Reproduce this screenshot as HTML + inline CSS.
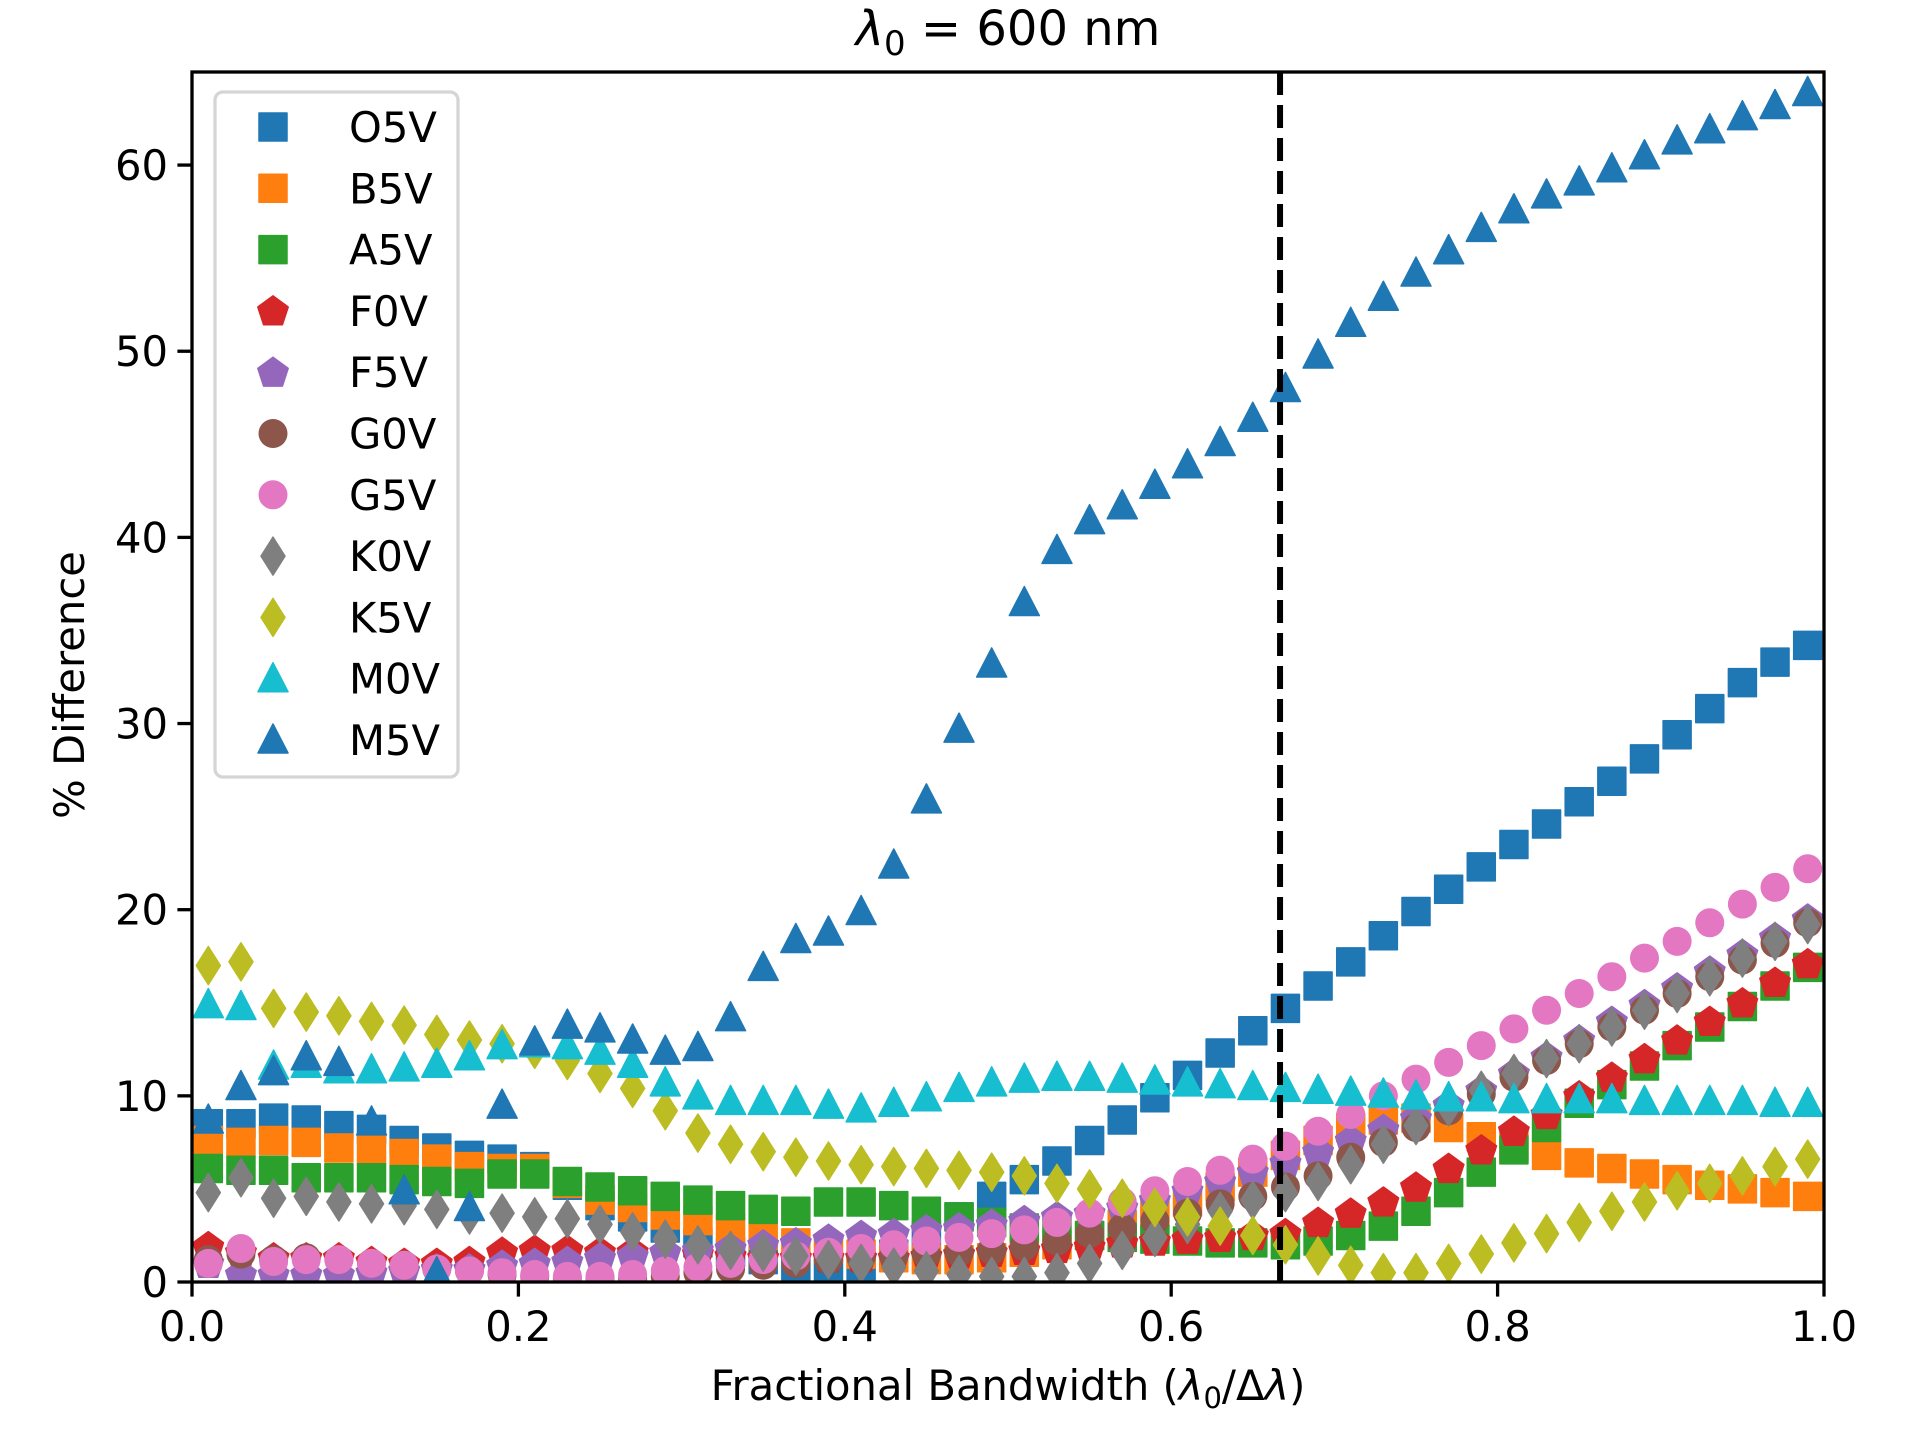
<!DOCTYPE html>
<html><head><meta charset="utf-8"><style>
html,body{margin:0;padding:0;background:#fff;}
svg{display:block;font-family:"DejaVu Sans","Liberation Sans",sans-serif;}
</style></head><body>
<svg id="chart" width="1920" height="1440" viewBox="0 0 1920 1440" xmlns="http://www.w3.org/2000/svg">
<rect width="1920" height="1440" fill="#fff"/>
<g id="marks"></g>
<g id="axes"></g>
<g id="legend"></g>
<text x="1008" y="45" font-size="48" text-anchor="middle"><tspan font-style="italic">λ</tspan><tspan font-size="34" dy="10">0</tspan><tspan dy="-10"> = 600 nm</tspan></text>
<text x="1008" y="1400" font-size="41.7" text-anchor="middle">Fractional Bandwidth (<tspan font-style="italic">λ</tspan><tspan font-size="29" dy="8">0</tspan><tspan dy="-8">/Δ</tspan><tspan font-style="italic">λ</tspan>)</text>
<text x="0" y="0" font-size="41.7" text-anchor="middle" transform="translate(84,685) rotate(-90)">% Difference</text>
</svg>
<script>
const xValues = [0.01,0.03,0.05,0.07,0.09,0.11,0.13,0.15,0.17,0.19,0.21,0.23,0.25,0.27,0.29,0.31,0.33,0.35,0.37,0.39,0.41,0.43,0.45,0.47,0.49,0.51,0.53,0.55,0.57,0.59,0.61,0.63,0.65,0.67,0.69,0.71,0.73,0.75,0.77,0.79,0.81,0.83,0.85,0.87,0.89,0.91,0.93,0.95,0.97,0.99];
const O5V = [8.5,8.5,8.8,8.7,8.4,8.2,7.6,7.2,6.8,6.6,6.2,5.2,4.1,3.5,2.9,2.1,1.6,1.2,0.7,0.5,0.8,1.5,2.5,3.5,4.6,5.5,6.5,7.6,8.7,9.9,11.1,12.3,13.5,14.7,15.9,17.2,18.6,19.9,21.1,22.3,23.5,24.6,25.8,26.9,28.1,29.4,30.8,32.2,33.3,34.2];
const B5V = [7.6,7.5,7.6,7.5,7.2,7.1,6.9,6.6,6.2,6.1,6.1,5.3,4.4,4.0,3.6,3.3,2.9,2.5,2.1,1.8,1.5,1.3,1.2,1.2,1.3,1.6,2.0,2.5,3.1,3.7,4.3,5.1,5.9,6.8,7.6,8.3,8.7,8.8,8.3,7.8,7.3,6.8,6.4,6.1,5.8,5.5,5.2,5.0,4.8,4.6];
const A5V = [6.1,6.0,6.0,5.6,5.6,5.6,5.5,5.4,5.3,5.8,5.8,5.4,5.1,4.9,4.6,4.4,4.1,3.9,3.8,4.3,4.3,4.1,3.8,3.5,3.2,2.9,2.7,2.5,2.4,2.3,2.2,2.1,2.1,2.0,2.2,2.5,3.0,3.8,4.8,5.9,7.1,8.3,9.6,10.6,11.6,12.7,13.7,14.8,15.9,16.9];
const F0V = [1.9,1.6,1.3,1.3,1.3,1.1,1.0,1.0,1.1,1.6,1.7,1.7,1.6,1.6,1.6,1.5,1.4,1.3,1.3,1.3,1.3,1.3,1.4,1.5,1.6,1.7,1.8,1.9,2.1,2.2,2.3,2.4,2.5,2.6,3.2,3.7,4.3,5.1,6.1,7.1,8.1,9.0,10.0,11.0,12.0,13.0,14.0,15.0,16.1,17.1];
const F5V = [1.0,0.4,0.4,0.4,0.4,0.5,0.6,0.7,0.7,0.9,1.0,1.1,1.3,1.4,1.6,1.7,1.8,2.0,2.1,2.3,2.5,2.6,2.8,2.9,3.1,3.3,3.5,3.7,4.0,4.4,4.9,5.4,5.9,6.4,7.0,7.6,8.2,8.8,9.5,10.3,11.2,12.1,13.0,14.0,14.9,15.8,16.7,17.6,18.5,19.5];
const G0V = [1.2,1.5,1.2,1.3,1.2,1.0,0.9,0.7,0.6,0.4,0.3,0.2,0.2,0.2,0.3,0.5,0.7,0.9,1.0,1.2,1.3,1.4,1.5,1.6,1.7,1.9,2.2,2.6,2.9,3.3,3.7,4.2,4.6,5.1,5.7,6.7,7.5,8.3,9.2,10.1,11.0,11.9,12.8,13.7,14.6,15.5,16.4,17.3,18.2,19.3];
const G5V = [1.0,1.8,1.1,1.2,1.2,1.0,0.9,0.7,0.6,0.5,0.4,0.3,0.3,0.4,0.6,0.8,1.0,1.2,1.4,1.6,1.8,2.0,2.2,2.4,2.6,2.8,3.2,3.7,4.3,4.9,5.4,6.0,6.6,7.3,8.1,9.0,10.0,10.9,11.8,12.7,13.6,14.6,15.5,16.4,17.4,18.3,19.3,20.3,21.2,22.2];
const K0V = [4.8,5.6,4.5,4.6,4.3,4.2,4.1,3.9,3.6,3.7,3.5,3.4,3.1,2.7,2.3,2.0,1.7,1.6,1.4,1.2,1.0,0.8,0.6,0.4,0.3,0.3,0.5,1.0,1.7,2.4,3.1,3.8,4.4,4.8,5.4,6.3,7.4,8.4,9.4,10.3,11.2,12.0,12.8,13.7,14.6,15.5,16.4,17.4,18.3,19.2];
const K5V = [17.0,17.2,14.7,14.5,14.3,14.0,13.8,13.3,13.0,12.8,12.5,11.9,11.2,10.4,9.2,8.0,7.4,7.0,6.7,6.5,6.3,6.2,6.1,6.0,5.9,5.7,5.3,5.0,4.5,4.0,3.5,3.0,2.5,2.0,1.4,0.9,0.5,0.5,1.0,1.5,2.1,2.6,3.2,3.8,4.3,4.9,5.3,5.7,6.2,6.6];
const M0V = [14.9,14.8,11.6,11.7,11.4,11.4,11.5,11.7,12.1,12.7,12.8,12.7,12.4,11.7,10.7,10.0,9.7,9.7,9.7,9.5,9.3,9.6,9.9,10.4,10.7,10.9,11.0,11.0,10.9,10.8,10.7,10.6,10.5,10.4,10.3,10.2,10.1,10.0,9.9,9.9,9.8,9.8,9.8,9.8,9.7,9.7,9.7,9.7,9.6,9.6];
const M5V = [8.7,10.5,11.3,12.1,11.8,8.6,4.9,0.5,4.0,9.5,12.9,13.8,13.6,13.0,12.4,12.6,14.2,16.9,18.4,18.8,19.9,22.4,25.9,29.7,33.2,36.5,39.3,40.9,41.7,42.8,43.9,45.1,46.4,48.0,49.8,51.5,52.9,54.2,55.4,56.6,57.6,58.4,59.1,59.8,60.5,61.3,61.9,62.6,63.2,63.9];
const seriesNames = ["O5V","B5V","A5V","F0V","F5V","G0V","G5V","K0V","K5V","M0V","M5V"];
const xTicks = [0.0,0.2,0.4,0.6,0.8,1.0];
const xTickLabels = ["0.0","0.2","0.4","0.6","0.8","1.0"];
const yTicks = [0,10,20,30,40,50,60];
const yTickLabels = ["0","10","20","30","40","50","60"];
const cutoff = [0.6667];

const NS = "http://www.w3.org/2000/svg";
const L = 192, R = 1824, T = 72, B = 1282;
const xMin = 0, xMax = 1, yMin = 0, yMax = 65;
function xs(v){ return L + (v - xMin) / (xMax - xMin) * (R - L); }
function ys(v){ return B - (v - yMin) / (yMax - yMin) * (B - T); }
function mk(tag, attrs, parent){ const e = document.createElementNS(NS, tag); for (const k in attrs) e.setAttribute(k, attrs[k]); parent.appendChild(e); return e; }

const seriesData = [O5V,B5V,A5V,F0V,F5V,G0V,G5V,K0V,K5V,M0V,M5V];
const colors = ["#1f77b4","#ff7f0e","#2ca02c","#d62728","#9467bd","#8c564b","#e377c2","#7f7f7f","#bcbd22","#17becf","#1f77b4"];
const shapes = ["s","s","s","p","p","o","o","d","d","^","^"];

function shapePath(s, cx, cy){
  if (s === "s") { const h = 14; return `M${cx-h},${cy-h}H${cx+h}V${cy+h}H${cx-h}Z`; }
  if (s === "^") { return `M${cx},${cy-16}L${cx+15},${cy+13}L${cx-15},${cy+13}Z`; }
  if (s === "d") { return `M${cx},${cy-19}L${cx+12},${cy}L${cx},${cy+19}L${cx-12},${cy}Z`; }
  if (s === "p") { let d = ""; const r = 16; for (let i=0;i<5;i++){ const a = -Math.PI/2 + i*2*Math.PI/5; d += (i?"L":"M") + (cx + r*Math.cos(a)).toFixed(1) + "," + (cy + r*Math.sin(a) + 1).toFixed(1); } return d + "Z"; }
  return null;
}
function drawMarker(parent, s, cx, cy, color){
  if (s === "o") return mk("circle", {cx: cx, cy: cy, r: 14.5, fill: color}, parent);
  return mk("path", {d: shapePath(s, cx, cy), fill: color, stroke: color, "stroke-width": 1.5, "stroke-linejoin": "round"}, parent);
}

const marks = document.getElementById("marks");
const clip = mk("clipPath", {id: "plotclip"}, mk("defs", {}, marks));
mk("rect", {x: L, y: T, width: R-L, height: B-T}, clip);
marks.setAttribute("clip-path", "url(#plotclip)");
seriesData.forEach((arr, si) => {
  const g = mk("g", {}, marks);
  
  
  arr.forEach((v, i) => {
    const m = drawMarker(g, shapes[si], xs(xValues[i]), ys(v), colors[si]);
    
    
  });
});
const chart = document.getElementById("chart");
const cut = mk("line", {x1: xs(cutoff[0]), x2: xs(cutoff[0]), y1: T, y2: B, stroke: "#000", "stroke-width": 6, "stroke-dasharray": "23,10"}, chart);



const axes = document.getElementById("axes");
chart.appendChild(axes);
const frame = mk("rect", {x: L, y: T, width: R-L, height: B-T, fill: "none", stroke: "#000", "stroke-width": 3.3}, axes);


xTicks.forEach((t, i) => {
  const x = xs(t);
  const tk = mk("line", {x1: x, x2: x, y1: B, y2: B + 14.6, stroke: "#000", "stroke-width": 3.3}, axes);
  
  
  const tx = mk("text", {x: x, y: 1341, "font-size": 41.7, "text-anchor": "middle", fill: "#000"}, axes);
  tx.textContent = xTickLabels[i];
  
  
});
yTicks.forEach((t, i) => {
  const y = ys(t);
  const tk = mk("line", {x1: L - 14.6, x2: L, y1: y, y2: y, stroke: "#000", "stroke-width": 3.3}, axes);
  
  
  const tx = mk("text", {x: L - 24, y: y + 15, "font-size": 41.7, "text-anchor": "end", fill: "#000"}, axes);
  tx.textContent = yTickLabels[i];
  
  
});

const lg = document.getElementById("legend");
chart.appendChild(lg);
const box = mk("rect", {x: 215, y: 92, width: 243, height: 685, rx: 8, fill: "#fff", "fill-opacity": 0.8, stroke: "#d5d5d5", "stroke-width": 3.3}, lg);


seriesNames.forEach((n, i) => {
  const cy = 127 + i * 61.3;
  const g = mk("g", {}, lg);
  
  
  drawMarker(g, shapes[i], 273, cy, colors[i]);
  const t = mk("text", {x: 349, y: cy + 15, "font-size": 41.7, fill: "#000"}, g);
  t.textContent = n;
});
</script>
</body></html>
